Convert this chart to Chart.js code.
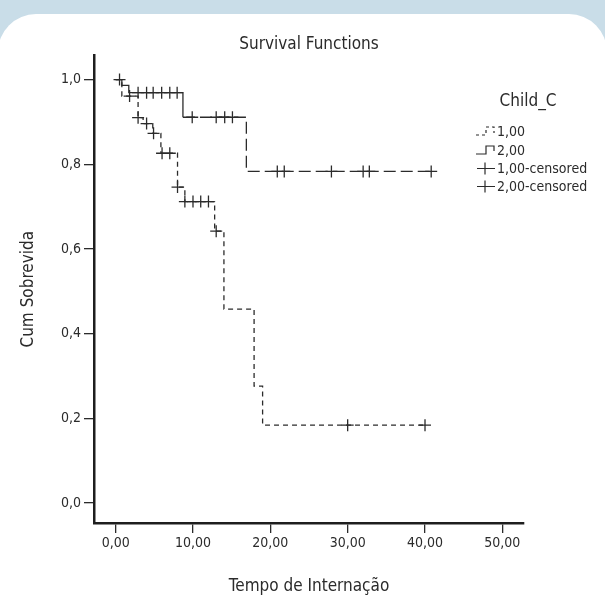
<!DOCTYPE html>
<html lang="pt">
<head>
  <meta charset="UTF-8">
  <title>Survival Functions</title>
  <script src="https://cdn.jsdelivr.net/npm/chart.js"></script>
  <style>
    html, body { margin:0; padding:0; background:#c9dde8; overflow:hidden; }
    .panel { position:absolute; left:-2px; right:-2px; top:14px; height:650px; background:#fff; border-radius:38px; }
    canvas { position:absolute; left:0; top:0; }
  </style>
</head>
<body>
  <div class="panel"></div>
  <canvas id="km" width="605" height="607"></canvas>

<script>
// Child_C = 1,00 (dashed) - step points
const g1Times = [0, 0.8, 2.9, 3.55, 4.8, 5.85, 8.0, 8.95, 12.8, 14.0, 17.9, 19.0, 40.0];
const g1Surv  = [1.0, 0.961, 0.910, 0.896, 0.873, 0.826, 0.746, 0.712, 0.642, 0.458, 0.276, 0.184, 0.184];
const g1CensTimes = [0.5, 1.8, 2.9, 4.0, 4.9, 6.0, 7.0, 8.0, 8.95, 10.0, 11.0, 12.0, 13.0, 30.0, 40.0];
const g1CensSurv  = [1.0, 0.961, 0.910, 0.896, 0.873, 0.826, 0.826, 0.746, 0.712, 0.712, 0.712, 0.712, 0.642, 0.184, 0.184];

// Child_C = 2,00 (solid)
const g2Times = [0, 0.8, 1.7, 8.7, 16.9, 40.8];
const g2Surv  = [1.0, 0.986, 0.969, 0.911, 0.783, 0.783];
const g2CensTimes = [2.9, 4.0, 4.85, 5.95, 7.0, 7.95, 9.9, 13.0, 14.1, 15.1, 20.9, 21.8, 27.9, 32.0, 32.8, 40.8];
const g2CensSurv  = [0.969, 0.969, 0.969, 0.969, 0.969, 0.969, 0.911, 0.911, 0.911, 0.911, 0.783, 0.783, 0.783, 0.783, 0.783, 0.783];

const xTickValues = [0, 10, 20, 30, 40, 50];
const xTickLabels = ['0,00', '10,00', '20,00', '30,00', '40,00', '50,00'];
const yTickValues = [0, 0.2, 0.4, 0.6, 0.8, 1.0];
const yTickLabels = ['0,0', '0,2', '0,4', '0,6', '0,8', '1,0'];

const legendTitle = 'Child_C';
const legendLabels = ['1,00', '2,00', '1,00-censored', '2,00-censored'];

const FONT = "'Liberation Sans Narrow', 'Arial Narrow', 'DejaVu Sans Condensed', sans-serif";
const INK = '#2b2b2b';

const pts = (xs, ys) => xs.map((x, i) => ({ x: x, y: ys[i] }));

// legend drawn inside the plot, on the right
const legendPlugin = {
  id: 'kmLegend',
  afterDraw(chart) {
    const ctx = chart.ctx;
    ctx.save();
    ctx.fillStyle = INK;
    ctx.strokeStyle = INK;
    ctx.textBaseline = 'middle';
    ctx.font = '17px ' + FONT;
    ctx.textAlign = 'center';
    ctx.fillText(legendTitle, 528, 102);
    ctx.textAlign = 'left';
    ctx.font = '14px ' + FONT;
    const rows = [131, 150, 168.5, 186.5];
    ctx.lineWidth = 1.2;
    // 1,00 : dashed step
    ctx.setLineDash([3, 3]);
    ctx.beginPath(); ctx.moveTo(476, rows[0] + 4); ctx.lineTo(486, rows[0] + 4); ctx.lineTo(486, rows[0] - 4); ctx.lineTo(494, rows[0] - 4); ctx.lineTo(494, rows[0] + 2); ctx.stroke();
    ctx.setLineDash([]);
    // 2,00 : solid step
    ctx.beginPath(); ctx.moveTo(476, rows[1] + 4); ctx.lineTo(486, rows[1] + 4); ctx.lineTo(486, rows[1] - 4); ctx.lineTo(494, rows[1] - 4); ctx.lineTo(494, rows[1] + 1); ctx.stroke();
    // censored marks
    for (let k = 2; k < 4; k++) {
      ctx.beginPath(); ctx.moveTo(477, rows[k]); ctx.lineTo(495, rows[k]); ctx.moveTo(485, rows[k] - 6); ctx.lineTo(485, rows[k] + 6); ctx.stroke();
    }
    legendLabels.forEach((t, i) => ctx.fillText(t, 497, rows[i] + 1));
    ctx.restore();
  }
};

new Chart(document.getElementById('km'), {
  type: 'line',
  data: {
    datasets: [
      {
        label: legendLabels[0], data: pts(g1Times, g1Surv), stepped: 'before',
        borderColor: INK, borderWidth: 1.3, borderDash: [5, 4], pointRadius: 0, fill: false
      },
      {
        label: legendLabels[1], data: pts(g2Times, g2Surv), stepped: 'before',
        borderColor: INK, borderWidth: 1.3, pointRadius: 0, fill: false,
        segment: { borderDash: c => (c.p1.parsed.x > 16 ? [12, 5] : []) }
      },
      {
        label: legendLabels[2], data: pts(g1CensTimes, g1CensSurv), showLine: false,
        pointStyle: 'cross', pointRadius: 6, pointBorderWidth: 1.3, borderColor: INK, pointBorderColor: INK
      },
      {
        label: legendLabels[3], data: pts(g2CensTimes, g2CensSurv), showLine: false,
        pointStyle: 'cross', pointRadius: 6, pointBorderWidth: 1.3, borderColor: INK, pointBorderColor: INK
      }
    ]
  },
  options: {
    responsive: false,
    animation: false,
    devicePixelRatio: 1,
    layout: { padding: { left: 0, right: 81, top: 0, bottom: 6 } },
    plugins: {
      legend: { display: false },
      tooltip: { enabled: false },
      title: {
        display: true, text: 'Survival Functions', color: INK, fullSize: false,
        font: { family: FONT, size: 17, weight: 'normal' },
        padding: { top: 34, bottom: 1 }
      }
    },
    scales: {
      x: {
        type: 'linear', min: -2.8, max: 52.8,
        afterBuildTicks: s => { s.ticks = xTickValues.map(v => ({ value: v })); },
        afterFit: s => { s.height = 78; },
        ticks: { color: INK, font: { family: FONT, size: 14 }, padding: 2,
                 callback: (v, i) => xTickLabels[i] },
        grid: { drawOnChartArea: false, drawTicks: true, tickLength: 10, color: INK, lineWidth: 1.3 },
        border: { display: true, color: '#1e1e1e', width: 2.5 },
        title: { display: true, text: 'Tempo de Internação', color: INK,
                 font: { family: FONT, size: 17 }, padding: { top: 0, bottom: 4 } }
      },
      y: {
        type: 'linear', min: -0.047, max: 1.057,
        afterBuildTicks: s => { s.ticks = yTickValues.map(v => ({ value: v })); },
        afterFit: s => { s.width = 94; },
        ticks: { color: INK, font: { family: FONT, size: 14 }, padding: 3,
                 callback: (v, i) => yTickLabels[i] },
        grid: { drawOnChartArea: false, drawTicks: true, tickLength: 10, color: INK, lineWidth: 1.3 },
        border: { display: true, color: '#1e1e1e', width: 2.5 },
        title: { display: true, text: 'Cum Sobrevida', color: INK,
                 font: { family: FONT, size: 17 }, padding: { top: 18, bottom: 0 } }
      }
    }
  },
  plugins: [legendPlugin]
});
</script>
</body>
</html>
